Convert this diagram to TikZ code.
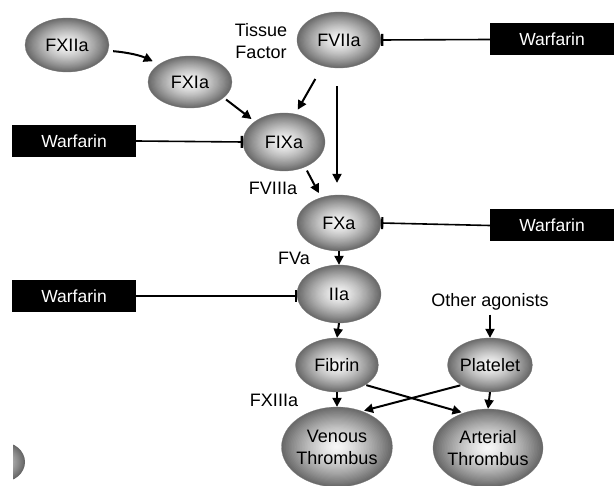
\documentclass[tikz,border=0pt]{standalone}
\usepackage{fontspec}
\setmainfont{Liberation Sans}
\usetikzlibrary{shapes.geometric,arrows.meta,calc}
\tikzset{
  ball/.style 2 args={ellipse, minimum width=#1pt, minimum height=#2pt, inner sep=0pt,
    draw=black!50, line width=0.3pt, align=center,
    font=\fontsize{18}{22}\selectfont,
    path picture={
      \foreach \k in {0,...,34}{
        \pgfmathsetmacro\rr{1-\k/35}
        \pgfmathsetmacro\cc{3+57*\rr^1.35}
        \fill[black!\cc] let \p1=(path picture bounding box.north east),
          \p2=(path picture bounding box.center) in (\p2)
          ellipse [x radius={\rr*(\x1-\x2)+0.6pt}, y radius={\rr*(\y1-\y2)+0.6pt}];
      }
    }},
  warf/.style={fill=black, text=white, minimum width=124pt, minimum height=32pt, inner sep=0pt,
    font=\fontsize{17.5}{20}\selectfont},
  lbl/.style={font=\fontsize{18}{22}\selectfont, align=center, inner sep=0pt},
  arr/.style={-{Triangle[width=9pt,length=9pt]}, line width=2pt},
  inh/.style={-{Bar[width=12pt,line width=2.2pt]}, line width=1.6pt},
}
\begin{document}
\begin{tikzpicture}[x=1pt,y=-1pt]
\useasboundingbox (0,0) rectangle (614,486);
% partial ball at bottom-left (cut by the image edge)
\begin{scope}
\clip (13,0) rectangle (614,486);
\foreach \k in {0,...,34}{
  \pgfmathsetmacro\rr{1-\k/35}
  \pgfmathsetmacro\cc{15+45*\rr^1.2}
  \fill[black!\cc] (2,462) ellipse [x radius={\rr*23pt}, y radius={\rr*20pt}];
}
\end{scope}

\node[ball={84}{54}] (fxii) at (67,45) {FXIIa};
\node[ball={84}{52}] (fxi) at (190,82) {FXIa};
\node[ball={84}{56}] (fvii) at (339,40) {FVIIa};
\node[ball={82}{58}] (fix) at (284,142) {FIXa};
\node[ball={84}{56}] (fxa) at (339,223) {FXa};
\node[ball={84}{58}] (iia) at (339,294) {IIa};
\node[ball={83}{54}] (fib) at (337,365) {Fibrin};
\node[ball={85}{54}] (plt) at (490,365) {Platelet};
\node[ball={111}{80}, inner xsep=-6pt] (ven) at (337,447) {Venous\\Thrombus};
\node[ball={110}{78}, inner xsep=-6pt] (art) at (488,448) {Arterial\\Thrombus};

\node[warf] (w1) at (552,39.5) {Warfarin};
\node[warf] (w2) at (74,141) {Warfarin};
\node[warf] (w3) at (552,225.5) {Warfarin};
\node[warf] (w4) at (74,296) {Warfarin};

\node[lbl] (tf) at (261,41) {Tissue\\Factor};
\node[lbl] (f8) at (273,188) {FVIIIa};
\node[lbl] (f5) at (294,258) {FVa};
\node[lbl] (oa) at (490,302) {Other agonists};
\node[lbl] (f13) at (274,400) {FXIIIa};

% activation arrows
\draw[arr, shorten <=5pt, shorten >=7pt] (fxii.-8) to[bend left=10] (fxi.150);
\draw[arr, shorten <=3pt, shorten >=4pt] (fxi.-25) -- (fix.145);
\draw[arr, shorten <=15pt, shorten >=5pt] (fvii.238) -- (fix.68);
\draw[arr, shorten <=18pt, shorten >=12pt] (fvii.south) ++(-2,0) coordinate (vtop) (vtop) -- (vtop |- fxa.north);
\draw[arr, shorten <=4pt, shorten >=5pt] (fix.-50) -- (fxa.125);
\draw[arr] (fxa.south) -- (iia.north);
\draw[arr] (iia.south) -- (fib.north);
\draw[arr, shorten <=4pt] (oa.south) -- (plt.north);
\draw[arr] (fib.south) -- (ven.north);
\draw[arr] (plt.south) -- (art.north);
\draw[arr, shorten <=1pt, shorten >=2pt] (fib.-35) -- (art.125);
\draw[arr, shorten <=1pt, shorten >=2pt] (plt.-145) -- (ven.55);

% inhibition
\draw[inh] (w1.west) -- (fvii.east);
\draw[inh] (w2.east) -- (fix.west);
\draw[inh] (w3.west) -- (fxa.east);
\draw[inh] (w4.east) -- (iia.west |- w4.east);
\end{tikzpicture}
\end{document}
